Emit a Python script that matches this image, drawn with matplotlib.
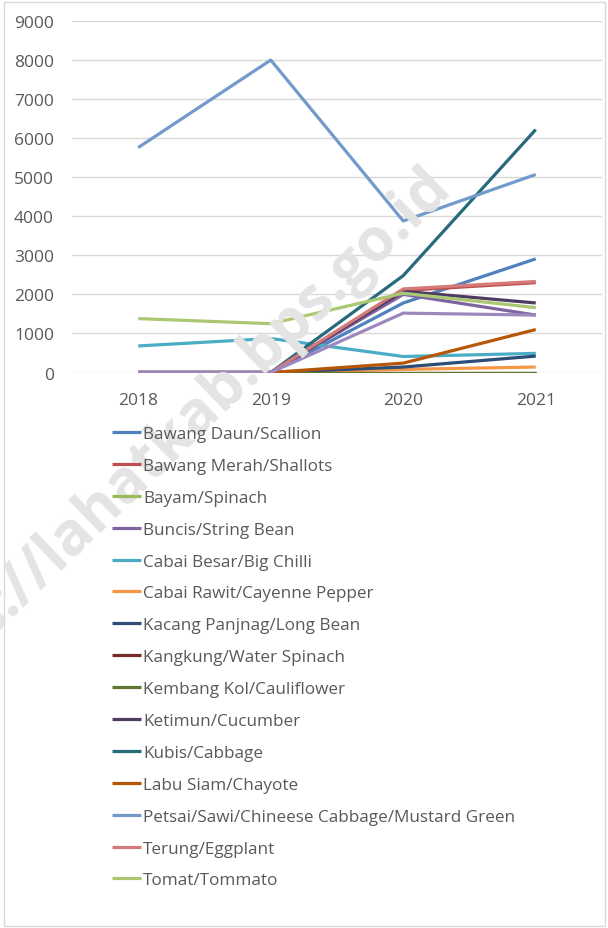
import matplotlib.pyplot as plt
from matplotlib.patches import Rectangle

plt.rcParams['font.family'] = ['Open Sans', 'DejaVu Sans']

# data
tahun = ['2018', '2019', '2020', '2021']

bawang_daun = [0, 0, 1780, 2910]
bawang_merah = [0, 0, 2100, 2300]
bayam = [0, 0, 0, 0]
buncis = [0, 0, 2000, 1470]
cabai_besar = [680, 870, 410, 490]
cabai_rawit = [0, 0, 80, 140]
kacang_panjang = [0, 0, 140, 420]
kangkung = [0, 0, 0, 0]
kembang_kol = [0, 0, 0, 0]
ketimun = [0, 0, 2080, 1780]
kubis = [0, 0, 2480, 6220]
labu_siam = [0, 0, 240, 1100]
petsai = [5760, 8000, 3880, 5070]
terung = [0, 0, 2140, 2330]
tomat = [1380, 1250, 2030, 1660]
# unlabelled series visible in the chart (no legend entry)
lainnya = [0, 0, 1520, 1470]

seri = [
    ('Bawang Daun/Scallion', bawang_daun, '#4F81BD'),
    ('Bawang Merah/Shallots', bawang_merah, '#C0504D'),
    ('Bayam/Spinach', bayam, '#9BBB59'),
    ('Buncis/String Bean', buncis, '#8064A2'),
    ('Cabai Besar/Big Chilli', cabai_besar, '#4BACC6'),
    ('Cabai Rawit/Cayenne Pepper', cabai_rawit, '#F79646'),
    ('Kacang Panjnag/Long Bean', kacang_panjang, '#2C4D75'),
    ('Kangkung/Water Spinach', kangkung, '#772C2A'),
    ('Kembang Kol/Cauliflower', kembang_kol, '#5F7530'),
    ('Ketimun/Cucumber', ketimun, '#4D3B62'),
    ('Kubis/Cabbage', kubis, '#276A7C'),
    ('Labu Siam/Chayote', labu_siam, '#B65708'),
    ('Petsai/Sawi/Chineese Cabbage/Mustard Green', petsai, '#729ACA'),
    ('Terung/Eggplant', terung, '#D47A78'),
    ('Tomat/Tommato', tomat, '#AAC871'),
]

W, H = 608, 929
fig = plt.figure(figsize=(W / 100, H / 100), dpi=100)
ax = fig.add_axes([72 / W, 1 - 373.5 / H, 530 / W, 351.5 / H])

x = range(len(tahun))
for nama, nilai, warna in seri:
    ax.plot(x, nilai, color=warna, linewidth=2.3, label=nama, solid_capstyle='butt', zorder=3)
ax.plot(x, lainnya, color='#9C88BE', linewidth=2.3, label='_nolegend_', solid_capstyle='butt', zorder=3)

ax.set_xlim(-0.5, 3.5)
ax.set_ylim(0, 9000)
ax.set_xticks(list(x))
ax.set_xticklabels(tahun)
ax.set_yticks(range(0, 9001, 1000))
ax.tick_params(length=0, labelsize=12.5, colors='#595959')
ax.tick_params(axis='y', pad=13)
ax.tick_params(axis='x', pad=14)
ax.grid(axis='y', color='#D9D9D9', linewidth=1)
ax.set_axisbelow(True)
for s in ax.spines.values():
    s.set_visible(False)
ax.patch.set_alpha(0)

# watermark
fig.text(442 / W, 1 - 178 / H, 'https://lahatkab.bps.go.id', fontsize=43, fontweight='bold',
         color='#E4E4E4', rotation=44, rotation_mode='anchor', ha='right', va='center', zorder=0)

# chart border
fig.patches.append(Rectangle((4 / W, 2 / H), 601 / W, 924 / H, transform=fig.transFigure,
                             fill=False, edgecolor='#D9D9D9', linewidth=1))

fig.legend(loc='upper left', bbox_to_anchor=(112 / W, 1 - 427 / H), frameon=False,
           fontsize=12.3, labelcolor='#595959', handlelength=1.7, handletextpad=0.12,
           borderpad=0, borderaxespad=0, labelspacing=0.93)

fig.savefig('out.png', dpi=100)
